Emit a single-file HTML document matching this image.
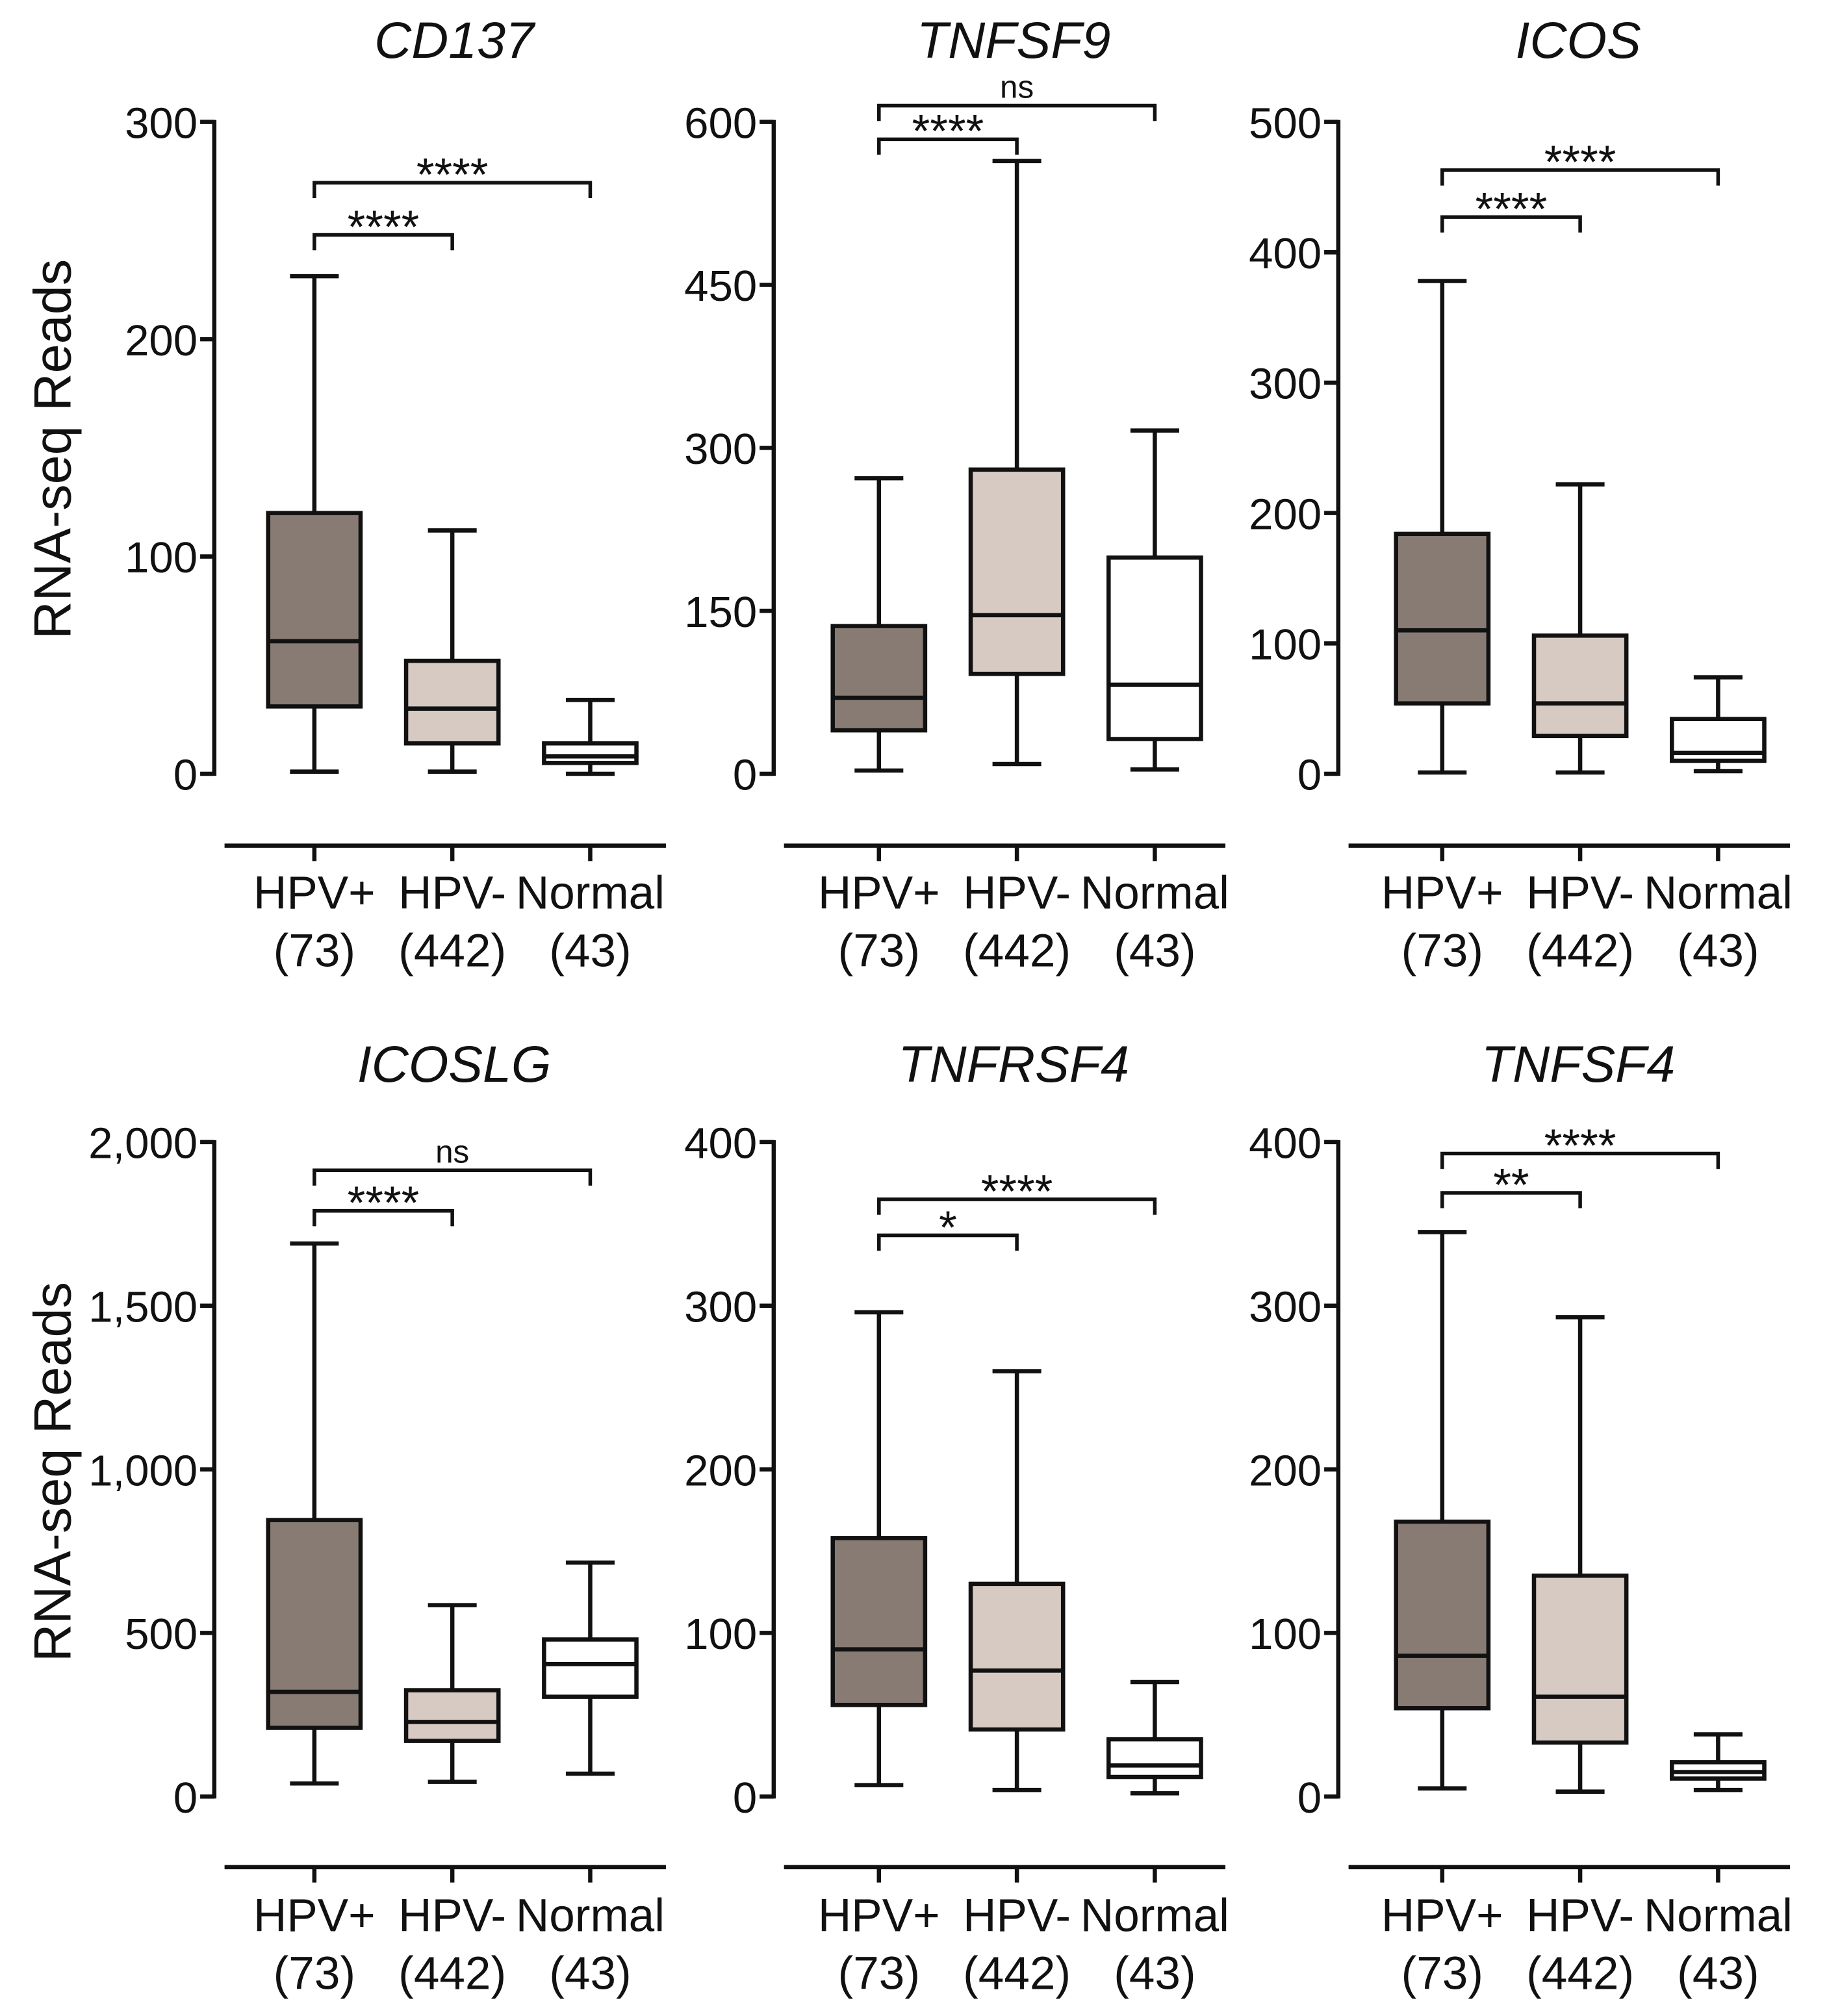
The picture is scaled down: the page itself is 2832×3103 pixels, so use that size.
<!DOCTYPE html>
<html><head><meta charset="utf-8"><style>
html,body{margin:0;padding:0;background:#fff;}
svg{display:block;}
text{font-family:"Liberation Sans",Arial,sans-serif;fill:#111;}
</style></head>
<body>
<svg id="fig" width="2832" height="3103" viewBox="0 0 1434 1571" preserveAspectRatio="none" xmlns="http://www.w3.org/2000/svg"></svg>
<script>
const groups = ["HPV+","HPV-","Normal"];
const counts = ["(73)","(442)","(43)"];
const genes = ["CD137","TNFSF9","ICOS","ICOSLG","TNFRSF4","TNFSF4"];
const yMax = [300,600,500,2000,400,400];
const yTicks = [[0,100,200,300],[0,150,300,450,600],[0,100,200,300,400,500],[0,500,1000,1500,2000],[0,100,200,300,400],[0,100,200,300,400]];
const tickText = [["0","100","200","300"],["0","150","300","450","600"],["0","100","200","300","400","500"],["0","500","1,000","1,500","2,000"],["0","100","200","300","400"],["0","100","200","300","400"]];
// [min,q1,median,q3,max] per group
const statsCD137   = [[1,31,61,120,229],[1,14,30,52,112],[0,5,8,14,34]];
const statsTNFSF9  = [[3,40,70,136,272],[9,92,146,280,564],[4,32,82,199,316]];
const statsICOS    = [[1,54,110,184,378],[1,29,54,106,222],[2,10,16,42,74]];
const statsICOSLG  = [[40,210,320,845,1690],[45,170,228,325,585],[70,305,405,480,715]];
const statsTNFRSF4 = [[7,56,90,158,296],[4,41,77,130,260],[2,12,19,35,70]];
const statsTNFSF4  = [[5,54,86,168,345],[3,33,61,135,293],[4,11,15,21,38]];
const allStats = [statsCD137,statsTNFSF9,statsICOS,statsICOSLG,statsTNFRSF4,statsTNFSF4];
const bracketVals = [[248,272],[584,615],[427,463],[1790,1914],[343,365],[369,393]];
const bracketLabels = [["****","****"],["****","ns"],["****","****"],["****","ns"],["*","****"],["**","****"]];

const fills = ["#877b74","#d6cac3","#ffffff"];
const NS = "http://www.w3.org/2000/svg";
const svg = document.getElementById("fig");
function mk(tag, attrs, parent){
  const e = document.createElementNS(NS, tag);
  for (const k in attrs) e.setAttribute(k, attrs[k]);
  (parent||svg).appendChild(e);
  return e;
}
const axisXs = [167,603,1043];
const catOff = [78,82,81];
const rows = [{y0:603,top:95,xl:659,l1:708,l2:753,title:45},{y0:1400,top:890,xl:1455,l1:1505,l2:1550,title:843}];
const SW = 3.3;

genes.forEach((g, p) => {
  const col = p % 3, r = rows[Math.floor(p/3)];
  const ax = axisXs[col];
  const panel = mk("g", {});
  
  
  const y = v => r.y0 - (v / yMax[p]) * (r.y0 - r.top);
  const cx = i => ax + catOff[col] + i * 107.5;
  const t = mk("text", {x: ax + 187, y: r.title, "font-size": 40, "font-style": "italic", "text-anchor": "middle"}, panel);
  t.textContent = g;
  
  
  const yaxis = mk("line", {x1: ax, y1: r.y0 + 1.5, x2: ax, y2: r.top - 1.5, stroke: "#111", "stroke-width": SW}, panel);
  
  
  yTicks[p].forEach((v, k) => {
    mk("line", {x1: ax - 11, y1: y(v), x2: ax, y2: y(v), stroke: "#111", "stroke-width": SW}, panel);
    const tl = mk("text", {x: ax - 13, y: y(v) + 12.5, "font-size": 34, "text-anchor": "end"}, panel);
    tl.textContent = tickText[p][k];
    
    
  });
  const xaxis = mk("line", {x1: ax + 8, y1: r.xl, x2: ax + 352, y2: r.xl, stroke: "#111", "stroke-width": SW}, panel);
  
  
  groups.forEach((gr, i) => {
    mk("line", {x1: cx(i), y1: r.xl, x2: cx(i), y2: r.xl + 12, stroke: "#111", "stroke-width": SW}, panel);
    const a = mk("text", {x: cx(i), y: r.l1, "font-size": 36, "text-anchor": "middle"}, panel);
    a.textContent = gr;
    
    
    const b = mk("text", {x: cx(i), y: r.l2, "font-size": 36, "text-anchor": "middle"}, panel);
    b.textContent = counts[i];
    
    
    const s = allStats[p][i];
    const bg = mk("g", {}, panel);
    
    
    const c = cx(i), hw = 36, cw = 19;
    mk("line", {x1: c, y1: y(s[0]), x2: c, y2: y(s[1]), stroke: "#111", "stroke-width": SW}, bg);
    mk("line", {x1: c, y1: y(s[3]), x2: c, y2: y(s[4]), stroke: "#111", "stroke-width": SW}, bg);
    mk("line", {x1: c - cw, y1: y(s[0]), x2: c + cw, y2: y(s[0]), stroke: "#111", "stroke-width": SW}, bg);
    mk("line", {x1: c - cw, y1: y(s[4]), x2: c + cw, y2: y(s[4]), stroke: "#111", "stroke-width": SW}, bg);
    mk("rect", {x: c - hw, y: y(s[3]), width: 2 * hw, height: y(s[1]) - y(s[3]), fill: fills[i], stroke: "#111", "stroke-width": SW}, bg);
    mk("line", {x1: c - hw, y1: y(s[2]), x2: c + hw, y2: y(s[2]), stroke: "#111", "stroke-width": SW}, bg);
  });
  [1, 2].forEach((j, k) => {
    const by = y(bracketVals[p][k]);
    const bgp = mk("g", {}, panel);
    
    
    mk("path", {d: `M${cx(0)},${by + 12} V${by} H${cx(j)} V${by + 12}`, fill: "none", stroke: "#111", "stroke-width": 2.8}, bgp);
    const lbl = bracketLabels[p][k];
    const tx = mk("text", {x: (cx(0) + cx(j)) / 2, y: lbl === "ns" ? by - 6 : by + 6, "font-size": lbl === "ns" ? 25 : 36, "text-anchor": "middle"}, bgp);
    tx.textContent = lbl;
  });
});
[350, 1147].forEach(cy => {
  const yt = mk("text", {x: 0, y: 0, "font-size": 41, "text-anchor": "middle", transform: `translate(55,${cy}) rotate(-90)`});
  yt.textContent = "RNA-seq Reads";
  
  
});
</script>
</body></html>
